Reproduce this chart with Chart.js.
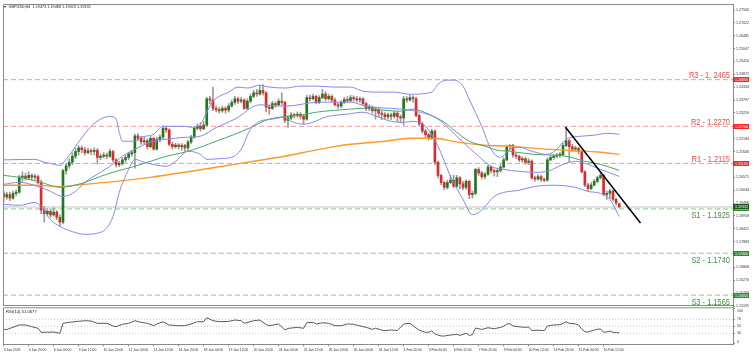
<!DOCTYPE html>
<html><head><meta charset="utf-8">
<script src="https://cdn.jsdelivr.net/npm/chart.js@4.4.1/dist/chart.umd.min.js"></script>
<style>
html,body{margin:0;padding:0;background:#fff;}
#wrap{position:relative;width:756px;height:360px;overflow:hidden;background:#fff;}
#main{position:absolute;left:0;top:0;}
#rsi{position:absolute;left:0;top:300px;}
</style></head><body>
<div id="wrap"><canvas id="main" width="756" height="312"></canvas><canvas id="rsi" width="756" height="60"></canvas></div>
<script>
// ---------- data ----------
const titleText = 'GBPUSD,H4  1.19473 1.19488 1.19323 1.19332';
const xLabels = ['3 Jan 2023','4 Jan 20:00','6 Jan 04:00','9 Jan 12:00','10 Jan 20:00','12 Jan 04:00','13 Jan 12:00','16 Jan 20:00','18 Jan 04:00','19 Jan 12:00','20 Jan 20:00','24 Jan 04:00','25 Jan 12:00','26 Jan 20:00','30 Jan 04:00','31 Jan 12:00','1 Feb 20:00','3 Feb 04:00','6 Feb 12:00','7 Feb 20:00','9 Feb 04:00','10 Feb 12:00','13 Feb 20:00','15 Feb 04:00','16 Feb 12:00'];
const yTicks = [1.27560,1.27022,1.26485,1.25947,1.25410,1.24872,1.24334,1.23797,1.23259,1.22722,1.22184,1.21646,1.21109,1.20571,1.20034,1.19496,1.18958,1.18421,1.17883,1.17346,1.16808,1.16270,1.15733,1.15195];
const rsiTicks = [100,70,50,30,0];
const rsiLevels = [70,50,30];
const levelNames = ['R3 - 1. 2465','R2 - 1.2270','R1 - 1.2115','S1 - 1.1925','S2 - 1.1740','S3 - 1.1565'];
const levelValues = [1.2465,1.2270,1.2115,1.1925,1.1740,1.1565];
const lastPrice = 1.19332;
const rsiLabel = 'RSI(14) 31.0677';

const opens = [
1.1990,1.1975,1.1985,1.1970,1.1990,1.1995,1.2058,1.2062,1.2055,1.2065,
1.2058,1.2060,1.2035,1.1920,1.1905,1.1915,1.1900,1.1912,1.1890,1.1870,
1.2085,1.2105,1.2120,1.2145,1.2165,1.2180,1.2172,1.2160,1.2168,1.2165,
1.2170,1.2140,1.2145,1.2150,1.2145,1.2165,1.2130,1.2110,1.2115,1.2130,
1.2140,1.2155,1.2160,1.2230,1.2220,1.2205,1.2210,1.2185,1.2220,1.2175,
1.2215,1.2225,1.2262,1.2255,1.2195,1.2185,1.2192,1.2185,1.2190,1.2180,
1.2205,1.2225,1.2262,1.2270,1.2260,1.2275,1.2385,1.2380,1.2345,1.2340,
1.2335,1.2345,1.2338,1.2355,1.2370,1.2385,1.2375,1.2380,1.2345,1.2375,
1.2395,1.2410,1.2405,1.2420,1.2410,1.2350,1.2345,1.2365,1.2360,1.2375,
1.2370,1.2295,1.2305,1.2318,1.2315,1.2320,1.2312,1.2300,1.2390,1.2385,
1.2395,1.2370,1.2390,1.2405,1.2385,1.2395,1.2380,1.2360,1.2355,1.2370,
1.2382,1.2378,1.2390,1.2385,1.2380,1.2385,1.2365,1.2345,1.2350,1.2335,
1.2340,1.2325,1.2320,1.2310,1.2318,1.2312,1.2325,1.2310,1.2305,1.2385,
1.2380,1.2390,1.2385,1.2315,1.2280,1.2250,1.2235,1.2220,1.2250,1.2120,
1.2065,1.2035,1.2015,1.2035,1.2045,1.2020,1.2055,1.2030,1.2015,1.2040,
1.1985,1.1990,1.2090,1.2075,1.2060,1.2070,1.2100,1.2085,1.2080,1.2085,
1.2100,1.2130,1.2185,1.2190,1.2150,1.2145,1.2130,1.2135,1.2120,1.2125,
1.2055,1.2050,1.2060,1.2048,1.2045,1.2130,1.2140,1.2145,1.2150,1.2152,
1.2190,1.2210,1.2185,1.2175,1.2178,1.2165,1.2080,1.2025,1.2010,1.2025,
1.2040,1.2055,1.2065,1.1985,1.1990,1.2000,1.1965,1.19473];
const highs = [
1.2000,1.1995,1.1995,1.2000,1.2005,1.2065,1.2080,1.2075,1.2080,1.2072,
1.2070,1.2066,1.2045,1.1935,1.1925,1.1925,1.1930,1.1918,1.1900,1.2090,
1.2115,1.2135,1.2160,1.2180,1.2190,1.2188,1.2182,1.2178,1.2175,1.2180,
1.2178,1.2155,1.2160,1.2158,1.2175,1.2170,1.2135,1.2125,1.2140,1.2150,
1.2162,1.2170,1.2238,1.2240,1.2228,1.2225,1.2218,1.2228,1.2225,1.2225,
1.2235,1.2272,1.2270,1.2260,1.2205,1.2200,1.2198,1.2198,1.2195,1.2212,
1.2232,1.2270,1.2280,1.2285,1.2290,1.2392,1.2395,1.2434,1.2355,1.2350,
1.2355,1.2352,1.2365,1.2380,1.2395,1.2392,1.2390,1.2385,1.2385,1.2405,
1.2420,1.2425,1.2440,1.2445,1.2415,1.2360,1.2375,1.2372,1.2385,1.2410,
1.2375,1.2315,1.2328,1.2325,1.2330,1.2328,1.2320,1.2400,1.2400,1.2405,
1.2400,1.2398,1.2425,1.2415,1.2405,1.2402,1.2388,1.2368,1.2378,1.2392,
1.2395,1.2400,1.2398,1.2395,1.2392,1.2390,1.2370,1.2360,1.2355,1.2350,
1.2345,1.2335,1.2328,1.2325,1.2325,1.2332,1.2330,1.2318,1.2395,1.2395,
1.2400,1.2398,1.2392,1.2322,1.2288,1.2258,1.2242,1.2258,1.2255,1.2125,
1.2070,1.2040,1.2045,1.2065,1.2065,1.2065,1.2060,1.2040,1.2048,1.2045,
1.2000,1.2095,1.2098,1.2082,1.2078,1.2108,1.2105,1.2092,1.2095,1.2110,
1.2138,1.2192,1.2195,1.2195,1.2158,1.2150,1.2142,1.2140,1.2135,1.2130,
1.2062,1.2068,1.2065,1.2055,1.2138,1.2148,1.2152,1.2158,1.2160,1.2200,
1.2268,1.2215,1.2195,1.2188,1.2182,1.2170,1.2085,1.2032,1.2035,1.2048,
1.2062,1.2078,1.2070,1.2000,1.2008,1.2005,1.1970,1.19488];
const lows = [
1.1955,1.1965,1.1960,1.1965,1.1980,1.1990,1.2040,1.2045,1.2048,1.2045,
1.2048,1.2030,1.1905,1.1870,1.1895,1.1890,1.1895,1.1880,1.1852,1.1862,
1.2070,1.2095,1.2110,1.2135,1.2150,1.2160,1.2150,1.2155,1.2152,1.2150,
1.2112,1.2130,1.2138,1.2135,1.2140,1.2120,1.2100,1.2102,1.2108,1.2120,
1.2130,1.2145,1.2095,1.2210,1.2195,1.2195,1.2175,1.2180,1.2170,1.2170,
1.2205,1.2218,1.2245,1.2188,1.2175,1.2178,1.2175,1.2170,1.2165,1.2165,
1.2198,1.2220,1.2255,1.2250,1.2255,1.2270,1.2365,1.2335,1.2330,1.2325,
1.2328,1.2325,1.2330,1.2350,1.2362,1.2365,1.2368,1.2340,1.2340,1.2368,
1.2390,1.2395,1.2400,1.2400,1.2330,1.2320,1.2340,1.2350,1.2355,1.2360,
1.2285,1.2265,1.2298,1.2305,1.2308,1.2300,1.2280,1.2295,1.2375,1.2380,
1.2365,1.2365,1.2385,1.2378,1.2380,1.2372,1.2355,1.2345,1.2348,1.2365,
1.2370,1.2372,1.2375,1.2372,1.2370,1.2358,1.2335,1.2335,1.2325,1.2300,
1.2310,1.2298,1.2300,1.2300,1.2298,1.2305,1.2290,1.2285,1.2275,1.2370,
1.2375,1.2370,1.2310,1.2272,1.2242,1.2225,1.2212,1.2215,1.2110,1.2055,
1.2025,1.2005,1.2008,1.2030,1.2015,1.2015,1.2010,1.2005,1.2008,1.1968,
1.1970,1.1985,1.2065,1.2050,1.2050,1.2065,1.2075,1.2062,1.2060,1.2078,
1.2095,1.2125,1.2170,1.2140,1.2135,1.2122,1.2120,1.2112,1.2110,1.2048,
1.2040,1.2045,1.2040,1.2038,1.2040,1.2125,1.2132,1.2138,1.2140,1.2148,
1.2185,1.2120,1.2165,1.2165,1.2155,1.2075,1.2018,1.2000,1.2005,1.2020,
1.2035,1.2050,1.1980,1.1965,1.1968,1.1958,1.1942,1.19323];
const closes = [
1.1975,1.1985,1.1970,1.1990,1.1995,1.2058,1.2062,1.2055,1.2065,1.2058,
1.2060,1.2035,1.1920,1.1905,1.1915,1.1900,1.1912,1.1890,1.1870,1.2085,
1.2105,1.2120,1.2145,1.2165,1.2180,1.2172,1.2160,1.2168,1.2165,1.2170,
1.2140,1.2145,1.2150,1.2145,1.2165,1.2130,1.2110,1.2115,1.2130,1.2140,
1.2155,1.2160,1.2230,1.2220,1.2205,1.2210,1.2185,1.2220,1.2175,1.2215,
1.2225,1.2262,1.2255,1.2195,1.2185,1.2192,1.2185,1.2190,1.2180,1.2205,
1.2225,1.2262,1.2270,1.2260,1.2275,1.2385,1.2380,1.2345,1.2340,1.2335,
1.2345,1.2338,1.2355,1.2370,1.2385,1.2375,1.2380,1.2345,1.2375,1.2395,
1.2410,1.2405,1.2420,1.2410,1.2350,1.2345,1.2365,1.2360,1.2375,1.2370,
1.2295,1.2305,1.2318,1.2315,1.2320,1.2312,1.2300,1.2390,1.2385,1.2395,
1.2370,1.2390,1.2405,1.2385,1.2395,1.2380,1.2360,1.2355,1.2370,1.2382,
1.2378,1.2390,1.2385,1.2380,1.2385,1.2365,1.2345,1.2350,1.2335,1.2340,
1.2325,1.2320,1.2310,1.2318,1.2312,1.2325,1.2310,1.2305,1.2385,1.2380,
1.2390,1.2385,1.2315,1.2280,1.2250,1.2235,1.2220,1.2250,1.2120,1.2065,
1.2035,1.2015,1.2035,1.2045,1.2020,1.2055,1.2030,1.2015,1.2040,1.1985,
1.1990,1.2090,1.2075,1.2060,1.2070,1.2100,1.2085,1.2080,1.2085,1.2100,
1.2130,1.2185,1.2190,1.2150,1.2145,1.2130,1.2135,1.2120,1.2125,1.2055,
1.2050,1.2060,1.2048,1.2045,1.2130,1.2140,1.2145,1.2150,1.2152,1.2190,
1.2210,1.2185,1.2175,1.2178,1.2165,1.2080,1.2025,1.2010,1.2025,1.2040,
1.2055,1.2065,1.1985,1.1990,1.2000,1.1965,1.1950,1.19332];

// indicator lines: [bar index, value]
const bbUpper = [[0,1.2130],[10,1.2132],[13,1.2120],[15,1.2115],[18,1.2107],[20,1.2132],[24,1.2204],[28,1.2270],[31,1.2300],[34,1.2312],[36,1.2300],[37,1.2245],[38,1.2208],[42,1.2208],[44,1.2224],[48,1.2237],[51,1.2270],[58,1.2270],[60,1.2266],[63,1.2279],[65,1.2330],[67,1.2375],[72,1.2413],[75,1.2434],[78,1.2430],[82,1.2442],[84,1.2436],[90,1.2430],[95,1.2438],[100,1.2438],[106,1.2434],[111,1.2434],[115,1.2417],[120,1.2413],[125,1.2413],[130,1.2404],[137,1.2413],[139,1.2446],[142,1.2463],[144,1.2463],[147,1.2438],[149,1.2383],[153,1.2270],[156,1.2174],[159,1.2140],[162,1.2174],[165,1.2183],[169,1.2166],[174,1.2153],[177,1.2174],[180,1.2216],[185,1.2229],[189,1.2233],[193,1.2241],[197,1.2237]];
const bbMiddle = [[0,1.2028],[5,1.2036],[11,1.2019],[15,1.1998],[19,1.1977],[23,1.1998],[26,1.2036],[31,1.2078],[34,1.2103],[38,1.2145],[42,1.2174],[47,1.2204],[52,1.2216],[58,1.2224],[63,1.2229],[68,1.2265],[74,1.2300],[82,1.2360],[90,1.2354],[101,1.2371],[111,1.2371],[116,1.2354],[127,1.2342],[132,1.2333],[139,1.2300],[146,1.2216],[152,1.2145],[156,1.2103],[160,1.2090],[165,1.2082],[170,1.2078],[174,1.2082],[179,1.2111],[183,1.2124],[187,1.2111],[191,1.2090],[197,1.2061]];
const bbLower = [[0,1.1944],[5,1.1940],[10,1.1952],[12,1.1935],[15,1.1880],[18,1.1852],[22,1.1830],[26,1.1819],[31,1.1827],[35,1.1893],[37,1.1994],[40,1.2090],[42,1.2132],[45,1.2120],[52,1.2103],[55,1.2124],[59,1.2166],[63,1.2153],[65,1.2132],[69,1.2135],[73,1.2141],[76,1.2174],[79,1.2258],[82,1.2291],[86,1.2300],[90,1.2308],[92,1.2291],[96,1.2279],[104,1.2312],[110,1.2321],[115,1.2329],[120,1.2308],[124,1.2291],[128,1.2287],[131,1.2291],[135,1.2270],[139,1.2187],[143,1.2061],[147,1.1965],[150,1.1901],[152,1.1910],[154,1.1935],[157,1.1977],[160,1.1994],[165,1.2003],[170,1.2019],[176,1.2024],[183,1.2015],[187,1.1998],[191,1.1990],[194,1.1965],[197,1.1893]];
const maGreen = [[0,1.2065],[5,1.2057],[12,1.2036],[18,1.2015],[26,1.2036],[31,1.2061],[36,1.2082],[42,1.2103],[47,1.2124],[52,1.2145],[58,1.2162],[63,1.2183],[68,1.2208],[74,1.2237],[79,1.2265],[85,1.2300],[95,1.2317],[100,1.2329],[111,1.2342],[116,1.2346],[122,1.2337],[127,1.2333],[131,1.2342],[136,1.2321],[141,1.2287],[145,1.2245],[149,1.2208],[154,1.2187],[158,1.2170],[162,1.2166],[164,1.2162],[170,1.2153],[180,1.2145],[186,1.2124],[191,1.2111],[197,1.2086]];
const maOrange = [[0,1.2024],[10,1.2024],[18,1.2019],[26,1.2028],[36,1.2040],[47,1.2057],[58,1.2078],[68,1.2099],[79,1.2122],[90,1.2145],[101,1.2174],[111,1.2195],[122,1.2208],[130,1.2220],[138,1.2220],[145,1.2204],[154,1.2191],[162,1.2187],[170,1.2178],[180,1.2170],[191,1.2162],[197,1.2153]];
const trendLine = [[179.8,1.2266],[203.8,1.1866]];
const rsi = [[0,41.4],[1,40.8],[2,44],[5,53.7],[7,53.7],[9,49],[11,44.3],[12,32.8],[14,33],[16,33.7],[18,30],[19,58.5],[21,61.4],[24,64.3],[26,66],[28,65],[30,58.5],[33,58.5],[35,51],[36,49],[38,55.7],[40,58.5],[42,66],[44,61.4],[46,58.5],[48,51.8],[49,56.6],[51,63],[53,53.7],[56,51.8],[58,51.8],[60,56.6],[62,63.2],[64,63.2],[65,74.6],[67,66],[69,63.2],[72,64],[74,68],[76,66],[77,58.5],[80,66],[82,68],[84,55],[85,51.8],[88,56.6],[90,39.4],[91,44],[94,47],[96,44.3],[97,60.3],[99,61.4],[100,56.6],[102,60],[104,58.5],[106,51.8],[108,51.8],[110,56.6],[112,55.7],[115,49],[116,47],[118,41.4],[119,44.3],[121,39.4],[122,37.6],[124,39.4],[126,38],[128,56.6],[130,58.5],[132,45],[133,39],[135,32.8],[136,33],[137,37],[138,28],[140,22.3],[141,22.3],[143,25],[145,27],[146,24],[148,30],[149,24],[150,26],[151,45],[153,41],[155,46],[157,43],[159,47],[160,50],[161,56.6],[162,57],[163,51],[165,48.5],[167,47],[168,48],[169,38],[171,39],[173,37.6],[174,51],[176,53.7],[178,54.5],[179,58.5],[180,63],[181,58.5],[183,56.6],[184,53.7],[185,42],[186,34.7],[187,33.5],[189,39.4],[190,41.4],[191,42.5],[192,33],[193,34],[194,36.6],[195,32.8],[196,32],[197,31.07]];

// ---------- view ----------
const XMIN = -0.2, XMAX = 233.4;
const YMIN = 1.15195, YMAX = 1.27811;
const FONT = "'Liberation Sans', Arial, sans-serif";
Chart.defaults.font.family = FONT;
const UP = '#1f7a1f', DOWN = '#e02a2a', WICK = '#9a9a9a', FRAME = '#8a8a8a';

const pts = arr => arr.map(p => ({x: p[0], y: p[1]}));
const lineDs = (arr, color, width, order, extra) => Object.assign({
  type: 'line', data: pts(arr), borderColor: color, borderWidth: width,
  pointRadius: 0, fill: false, cubicInterpolationMode: 'monotone', order: order
}, extra || {});

const idx = closes.map((_, i) => i);
const datasets = [];
levelValues.forEach((v, k) => {
  const isR = levelNames[k][0] === 'R';
  datasets.push({type: 'line', data: [{x: XMIN, y: v}, {x: XMAX, y: v}], borderColor: isR ? '#f59a9a' : '#8cc98c',
    borderWidth: 1, borderDash: [5, 3], pointRadius: 0, fill: false, order: 20});
});
datasets.push({type: 'line', data: [{x: XMIN, y: lastPrice}, {x: XMAX, y: lastPrice}], borderColor: '#c4c4c4',
  borderWidth: 1, pointRadius: 0, fill: false, order: 19});
datasets.push({type: 'bar', data: idx.map(i => ({x: i, y: [lows[i], highs[i]]})), backgroundColor: WICK,
  barThickness: 1, grouped: false, minBarLength: 1, order: 12});
datasets.push({type: 'bar', data: idx.map(i => ({x: i, y: [opens[i], closes[i]]})),
  backgroundColor: idx.map(i => closes[i] >= opens[i] ? UP : DOWN),
  barThickness: 2, grouped: false, minBarLength: 1, order: 11});
datasets.push(lineDs(maOrange, '#ff9a2a', 1.4, 6));
datasets.push(lineDs(maGreen, '#45a865', 1, 5));
datasets.push(lineDs(bbUpper, '#8787ee', 1, 4));
datasets.push(lineDs(bbMiddle, '#8787ee', 1, 4));
datasets.push(lineDs(bbLower, '#8787ee', 1, 4));
datasets.push({type: 'line', data: pts(trendLine), borderColor: '#000', borderWidth: 1.5, pointRadius: 0, fill: false, order: 1});

function priceBox(ctx, py, fill, text) {
  ctx.fillStyle = fill;
  ctx.fillRect(733, Math.round(py - 2.5), 16, 5);
  ctx.fillStyle = '#fff';
  ctx.font = '3.6px ' + FONT;
  ctx.textAlign = 'left';
  ctx.textBaseline = 'middle';
  ctx.fillText(text, 735, Math.round(py - 2.5) + 2.6);
}

const mainDeco = {
  id: 'mainDeco',
  afterDatasetsDraw(chart) {
    const {ctx, scales: {y}} = chart;
    ctx.save();
    levelValues.forEach((v, k) => {
      const py = y.getPixelForValue(v);
      const isR = levelNames[k][0] === 'R';
      ctx.save();
      ctx.font = '9px ' + FONT;
      ctx.fillStyle = isR ? '#ff4444' : '#3e963e';
      ctx.textAlign = 'right';
      ctx.textBaseline = isR ? 'alphabetic' : 'top';
      ctx.translate(730, isR ? py - 1.5 : py + 2.5);
      ctx.scale(0.83, 1);
      ctx.fillText(levelNames[k], 0, 0);
      ctx.restore();
    });
    levelValues.forEach((v, k) => {
      const isR = levelNames[k][0] === 'R';
      priceBox(ctx, y.getPixelForValue(v), isR ? '#ff2222' : '#2f8a2f', v.toFixed(5));
    });
    priceBox(ctx, y.getPixelForValue(lastPrice), '#1d5a1d', lastPrice.toFixed(5));
    ctx.restore();
  },
  afterDraw(chart) {
    const {ctx, chartArea: a} = chart;
    ctx.save();
    ctx.strokeStyle = FRAME; ctx.lineWidth = 1;
    ctx.beginPath();
    ctx.moveTo(a.left + 0.5, a.bottom); ctx.lineTo(a.left + 0.5, a.top + 0.5); ctx.lineTo(a.right, a.top + 0.5);
    ctx.moveTo(a.left, a.bottom - 0.5); ctx.lineTo(a.right, a.bottom - 0.5);
    ctx.stroke();
    ctx.fillStyle = '#222';
    ctx.font = '3.8px ' + FONT;
    ctx.textBaseline = 'middle'; ctx.textAlign = 'left';
    ctx.fillText('\u25BE', 4, 7);
    ctx.fillText(titleText, 8.5, 7);
    ctx.restore();
  }
};

new Chart(document.getElementById('main'), {
  type: 'line',
  data: {datasets: datasets},
  options: {
    responsive: false, animation: false, devicePixelRatio: 1,
    layout: {padding: {left: 3, top: 4, right: 0, bottom: 6}, autoPadding: false},
    plugins: {legend: {display: false}, tooltip: {enabled: false}},
    scales: {
      x: {type: 'linear', min: XMIN, max: XMAX, offset: false, display: false},
      y: {type: 'linear', position: 'right', min: YMIN, max: YMAX,
        afterBuildTicks: s => { s.ticks = yTicks.map(v => ({value: v})); },
        afterFit: s => { s.width = 23; s.paddingTop = 0; s.paddingBottom = 0; },
        ticks: {autoSkip: false, padding: 1, color: '#333', font: {size: 3.6}, callback: v => Number(v).toFixed(5)},
        grid: {drawOnChartArea: false, drawTicks: true, tickLength: 2, color: FRAME},
        border: {display: true, color: FRAME}}
    }
  },
  plugins: [mainDeco]
});

const rsiDeco = {
  id: 'rsiDeco',
  afterDraw(chart) {
    const {ctx, chartArea: a, scales: {y}} = chart;
    ctx.save();
    ctx.strokeStyle = FRAME; ctx.lineWidth = 1;
    ctx.beginPath();
    ctx.moveTo(a.left + 0.5, a.bottom); ctx.lineTo(a.left + 0.5, a.top + 0.5); ctx.lineTo(a.right, a.top + 0.5);
    ctx.stroke();
    ctx.fillStyle = '#333';
    ctx.font = '3.5px ' + FONT;
    ctx.textAlign = 'left'; ctx.textBaseline = 'middle';
    rsiTicks.forEach(v => {
      let py = y.getPixelForValue(v);
      py = Math.min(Math.max(py, a.top + 4), a.bottom - 2.5);
      ctx.fillText(String(v), 737, py);
    });
    ctx.fillStyle = '#222';
    ctx.font = '4.2px ' + FONT;
    ctx.fillText(rsiLabel, 6, a.top + 4.5);
    ctx.restore();
  }
};

const rsiDatasets = rsiLevels.map(v => ({data: [{x: XMIN, y: v}, {x: XMAX, y: v}], borderColor: '#c8c8c8',
  borderWidth: 1, borderDash: [1, 2], pointRadius: 0, fill: false, order: 5}));
rsiDatasets.push({data: pts(rsi), borderColor: '#5a5a5a', borderWidth: 1, pointRadius: 0, fill: false, tension: 0, order: 1});

new Chart(document.getElementById('rsi'), {
  type: 'line',
  data: {datasets: rsiDatasets},
  options: {
    responsive: false, animation: false, devicePixelRatio: 1,
    layout: {padding: {left: 3, top: 7.3, right: 0, bottom: 0}, autoPadding: false},
    plugins: {legend: {display: false}, tooltip: {enabled: false}},
    scales: {
      x: {type: 'linear', min: XMIN, max: XMAX, offset: false, position: 'bottom',
        afterBuildTicks: s => { s.ticks = xLabels.map((_, k) => ({value: k * 8})); },
        afterFit: s => { s.height = 15.7; s.paddingLeft = 0; s.paddingRight = 0; },
        ticks: {autoSkip: false, maxRotation: 0, minRotation: 0, align: 'start', padding: 1.5, color: '#333',
          font: {size: 3.4}, callback: v => xLabels[Math.round(v / 8)]},
        grid: {drawOnChartArea: false, drawTicks: true, tickLength: 2, color: FRAME},
        border: {display: true, color: FRAME}},
      y: {type: 'linear', position: 'right', min: -1.4, max: 104.3,
        afterBuildTicks: s => { s.ticks = rsiTicks.map(v => ({value: v})); },
        afterFit: s => { s.width = 23; s.paddingTop = 0; s.paddingBottom = 0; },
        ticks: {display: false},
        grid: {drawOnChartArea: false, drawTicks: true, tickLength: 2, color: FRAME},
        border: {display: true, color: FRAME}}
    }
  },
  plugins: [rsiDeco]
});
</script>
</body></html>
